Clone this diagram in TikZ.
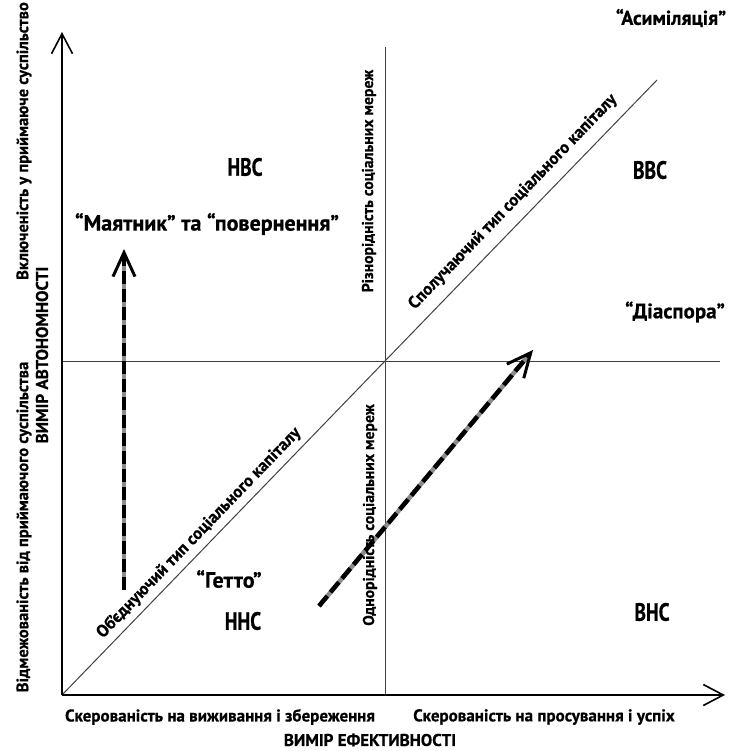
\documentclass[tikz,border=0pt]{standalone}
\usepackage{fontspec}
\setmainfont{PT Sans}[BoldFeatures={FakeBold=0.6}]
\newfontfamily\condf{PT Sans}[FakeStretch=0.78,BoldFeatures={FakeBold=0.6}]
\usetikzlibrary{arrows.meta}
\tikzset{
  lbl/.style={font=\bfseries\fontsize{17}{17}\selectfont, inner sep=0pt},
  sidelbl/.style={font=\bfseries\fontsize{16.5}{16.5}\selectfont, inner sep=0pt},
  midlbl/.style={font=\bfseries\fontsize{15.7}{15.7}\selectfont, inner sep=0pt},
  big/.style={font=\condf\bfseries\fontsize{25}{25}\selectfont, inner sep=0pt},
  quoted/.style={font=\bfseries\fontsize{21}{21}\selectfont, inner sep=0pt},
  axisline/.style={line width=2pt, -{Straight Barb[length=20pt,width=21pt,line width=1.6pt]}},
  thinline/.style={line width=1pt, black!75},
  dashunder/.style={line width=4.5pt, black!45},
  dashover/.style={line width=4.5pt, black, dash pattern=on 13pt off 5pt,
     -{Straight Barb[length=24pt,width=22pt,line width=3pt]}},
}
\begin{document}
\begin{tikzpicture}[x=1pt,y=-1pt]
\useasboundingbox (0,0) rectangle (741,751);
% key points
\coordinate (O) at (62,695);
\coordinate (ytip) at (62,32);
\coordinate (xtip) at (725,695);
\coordinate (C) at (385,361);
\coordinate (vtop) at (385,47);
\coordinate (vbot) at (385,695);
\coordinate (hl) at (62,361);
\coordinate (hr) at (720,361);
\coordinate (dtop) at (657,80);
\coordinate (a1s) at (124,590);
\coordinate (a1e) at (124,249);
\coordinate (a2s) at (319,606);
\coordinate (a2e) at (533,350);
% thin lines
\draw[thinline] (vtop) -- (vbot);
\draw[thinline] (hl) -- (hr);
\draw[thinline] (O) -- (C) -- (dtop);
% axes
\draw[axisline] (O) -- (ytip);
\draw[axisline] (O) -- (xtip);
% dashed arrows
\draw[dashunder, shorten >=8pt] (a1s) -- (a1e);
\draw[dashover] (a1s) -- (a1e);
\draw[dashunder, shorten >=8pt] (a2s) -- (a2e);
\draw[dashover] (a2s) -- (a2e);
% quadrant labels
\node[quoted, font=\bfseries\fontsize{20}{20}\selectfont] (asim) at (671,18) {“Асиміляція”};
\node[big] (nvs) at (245,167) {НВС};
\node[big] (vvs) at (650,170) {ВВС};
\node[quoted, font=\bfseries\fontsize{22}{22}\selectfont] (mayat) at (207,224) {“Маятник” та “повернення”};
\node[quoted] (diasp) at (675,312) {“Діаспора”};
\node[quoted, font=\bfseries\fontsize{22}{22}\selectfont] (getto) at (229,579) {“Гетто”};
\node[big] (nns) at (243,621) {ННС};
\node[big] (vns) at (652,612) {ВНС};
% middle line labels
\node[midlbl, rotate=90] (rizn) at (369,181) {Різнорідність соціальних мереж};
\node[midlbl, rotate=90] (odn) at (370,515) {Однорідність соціальних мереж};
\node[lbl, rotate=46] (spol) at (513,202) {Сполучаючий тип соціального капіталу};
\node[lbl, rotate=46] (obj) at (199,533) {Об’єднуючий тип соціального капіталу};
% axis labels
\node[sidelbl, rotate=90] (vkl) at (24,141) {Включеність у приймаюче суспільство};
\node[lbl, rotate=90] (vymA) at (42,355) {ВИМІР АВТОНОМНОСТІ};
\node[sidelbl, rotate=90] (vidm) at (24,527) {Відмежованість від приймаючого суспільства};
\node[lbl] (skv) at (220,717) {Скерованість на виживання і збереження};
\node[lbl] (skp) at (544,717) {Скерованість на просування і успіх};
\node[lbl] (vymE) at (370,740) {ВИМІР ЕФЕКТИВНОСТІ};
\end{tikzpicture}
\end{document}
